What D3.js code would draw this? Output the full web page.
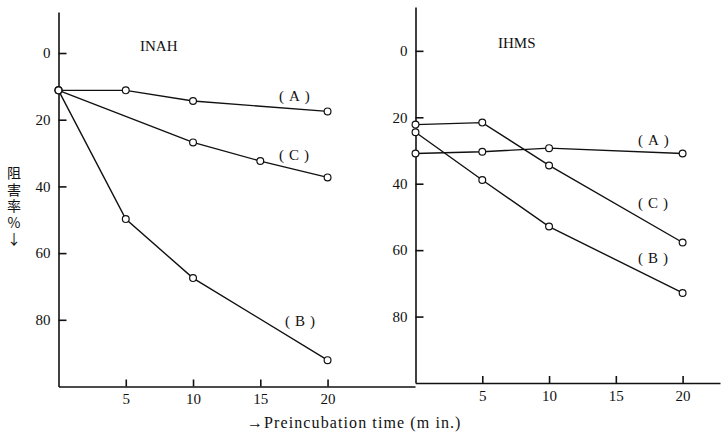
<!DOCTYPE html>
<html>
<head>
<meta charset="utf-8">
<script src="https://cdn.jsdelivr.net/npm/d3@7/dist/d3.min.js"></script>
<style>
  body { margin: 0; background: #fff; }
  svg, svg text { font-family: 'Liberation Serif', 'DejaVu Serif', serif; }
  .axis path, .axis line { stroke: #111; stroke-width: 1.6; }
</style>
</head>
<body>
<div id="vis"></div>
<script>
// preincubation time (min.)
var inah_a_x = [0, 5, 10, 20];
var inah_a_y = [11.2, 11.2, 14.4, 17.5];
var inah_c_x = [0, 10, 15, 20];
var inah_c_y = [11.2, 26.8, 32.4, 37.3];
var inah_b_x = [0, 5, 10, 20];
var inah_b_y = [11.2, 49.8, 67.5, 92.1];

var ihms_x = [0, 5, 10, 20];
var ihms_a_y = [30.9, 30.4, 29.3, 30.9];
var ihms_b_y = [24.5, 38.9, 52.9, 72.9];
var ihms_c_y = [22.2, 21.6, 34.5, 57.7];

var y_ticks = [0, 20, 40, 60, 80];
var x_ticks = [5, 10, 15, 20];

var width = 723, height = 437;

var svg = d3.select('#vis')
  .append('svg')
  .attr('width', width)
  .attr('height', height);

function zip(xs, ys) {
  return xs.map(function(x, i) { return {x: x, y: ys[i]}; });
}

function panel(p) {
  var x_scale = d3.scaleLinear().domain(p.x_domain).range(p.x_range);
  var y_scale = d3.scaleLinear().domain(p.y_domain).range(p.y_range);

  var g = svg.append('g');

  g.append('g')
    .attr('class', 'axis')
    .attr('transform', 'translate(' + p.x_range[0] + ',0)')
    .call(d3.axisLeft(y_scale).tickValues(y_ticks).tickSizeInner(-8).tickSizeOuter(0).tickPadding(8))
    .attr('font-family', null)
    .attr('font-size', 15);

  g.append('g')
    .attr('class', 'axis')
    .attr('transform', 'translate(0,' + p.y_range[0] + ')')
    .call(d3.axisBottom(x_scale).tickValues(x_ticks).tickSizeInner(-7).tickSizeOuter(0).tickPadding(7))
    .attr('font-family', null)
    .attr('font-size', 15);

  g.selectAll('.axis text').attr('fill', '#111');
  g.selectAll('.domain').attr('fill', 'none');

  var line = d3.line()
    .x(function(d) { return x_scale(d.x); })
    .y(function(d) { return y_scale(d.y); });

  p.series.forEach(function(s) {
    var pts = zip(s.x, s.y);
    g.append('path')
      .datum(pts)
      .attr('d', line)
      .attr('fill', 'none')
      .attr('stroke', '#111')
      .attr('stroke-width', 1.4);
    g.selectAll(null)
      .data(pts)
      .enter()
      .append('circle')
      .attr('cx', function(d) { return x_scale(d.x); })
      .attr('cy', function(d) { return y_scale(d.y); })
      .attr('r', 3.4)
      .attr('fill', '#fff')
      .attr('stroke', '#111')
      .attr('stroke-width', 1.2);
    g.append('text')
      .attr('x', s.lx)
      .attr('y', s.ly)
      .attr('font-size', 15)
      .attr('letter-spacing', 5)
      .attr('fill', '#111')
      .text(s.label);
  });

  g.append('text')
    .attr('x', p.title_x)
    .attr('y', p.title_y)
    .attr('font-size', 15)
    .attr('fill', '#111')
    .text(p.title);
}

panel({
  title: 'INAH', title_x: 140, title_y: 51,
  x_domain: [0, 26.5], x_range: [58.5, 415],
  y_domain: [100, -12.3], y_range: [386.5, 12],
  series: [
    {x: inah_a_x, y: inah_a_y, label: '(A)', lx: 279, ly: 101},
    {x: inah_c_x, y: inah_c_y, label: '(C)', lx: 279, ly: 160},
    {x: inah_b_x, y: inah_b_y, label: '(B)', lx: 285, ly: 326}
  ]
});

panel({
  title: 'IHMS', title_x: 498, title_y: 48,
  x_domain: [0, 22.8], x_range: [415.5, 720],
  y_domain: [100, -13.2], y_range: [383, 7],
  series: [
    {x: ihms_x, y: ihms_a_y, label: '(A)', lx: 638, ly: 145},
    {x: ihms_x, y: ihms_c_y, label: '(C)', lx: 638, ly: 208},
    {x: ihms_x, y: ihms_b_y, label: '(B)', lx: 638, ly: 263}
  ]
});

// y label, written vertically
svg.append('text')
  .attr('x', 14)
  .attr('y', 166)
  .attr('font-size', 14)
  .attr('letter-spacing', 2.5)
  .attr('fill', '#111')
  .style('font-family', "'Noto Sans CJK JP', sans-serif")
  .style('writing-mode', 'vertical-rl')
  .style('text-orientation', 'upright')
  .text('阻害率%↓');

svg.append('text')
  .attr('x', 247)
  .attr('y', 428)
  .attr('font-size', 16)
  .attr('letter-spacing', 1.1)
  .attr('fill', '#111')
  .text('→Preincubation time (m in.)');
</script>
</body>
</html>
